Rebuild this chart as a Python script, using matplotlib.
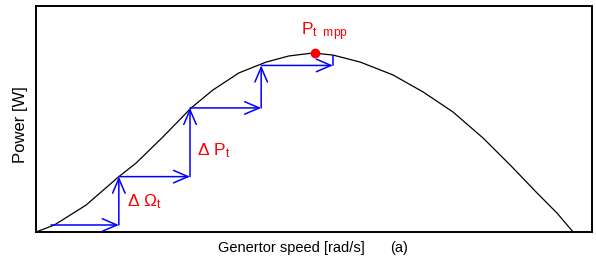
import matplotlib
matplotlib.use("Agg")
import matplotlib.pyplot as plt

plt.rcParams['font.family'] = ['Liberation Sans', 'DejaVu Sans']
plt.rcParams['mathtext.fontset'] = 'custom'
plt.rcParams['mathtext.rm'] = 'Liberation Sans'
plt.rcParams['mathtext.it'] = 'Liberation Sans'
plt.rcParams['mathtext.bf'] = 'Liberation Sans:bold'

# power curve (speed, power), both normalised 0..100
speed = [0, 3.3, 9.0, 14.9, 18.0, 22.8, 27.9, 31.8, 36.5, 41.4, 45.5, 49.8,
         53.4, 58.3, 64.2, 69.6, 75.0, 80.4, 85.3, 90.1, 93.7, 96.6]
power = [0, 3.1, 11.9, 24.5, 30.5, 42.0, 54.9, 62.8, 70.4, 75.2, 77.9, 79.2,
         78.3, 75.2, 69.5, 62.0, 53.1, 41.6, 29.6, 17.3, 8.4, 0]

# hill-climbing steps
step_x = [2.7, 14.9, 14.9, 27.7, 27.7, 40.5, 40.5, 53.4]
step_y = [3.1, 3.1, 24.5, 24.5, 54.9, 54.9, 73.7, 73.7]
tick_x = [53.4, 53.4]
tick_y = [73.7, 77.9]

mpp_x, mpp_y = 50.2, 79.2

fig = plt.figure(figsize=(5.96, 2.61), dpi=100)
ax = fig.add_axes([36 / 596, 29 / 261, 556 / 596, 226 / 261])

ax.plot(speed, power, color='black', lw=0.9)

for i in range(len(step_x) - 1):
    ax.annotate('', xy=(step_x[i + 1], step_y[i + 1]), xytext=(step_x[i], step_y[i]),
                arrowprops=dict(arrowstyle='->,head_length=1.05,head_width=0.45',
                                color='blue', lw=1.1, shrinkA=0, shrinkB=0))
ax.plot(tick_x, tick_y, color='blue', lw=1.1)

ax.plot([mpp_x], [mpp_y], 'o', color='red', ms=6)

ax.text(16.4, 11.5, r'$\mathrm{\Delta\ \Omega_t}$', color='red', fontsize=12.5,
        ha='left', va='baseline')
ax.text(29.0, 34.0, r'$\mathrm{\Delta\ P_t}$', color='red', fontsize=12.5,
        ha='left', va='baseline')
ax.text(47.6, 87.0, r'$\mathrm{P_{t\ \ mpp}}$', color='red', fontsize=12.5,
        ha='left', va='baseline')

ax.set_xlim(0, 100)
ax.set_ylim(0, 100)
ax.set_xticks([])
ax.set_yticks([])
for s in ax.spines.values():
    s.set_linewidth(1.4)

fig.text(218 / 596, 1 - 248 / 261, 'Genertor speed [rad/s]', fontsize=10.5,
         ha='left', va='center')
fig.text(390 / 596, 1 - 248 / 261, '(a)', fontsize=10.5, ha='left', va='center')
fig.text(21 / 596, 1 - 125 / 261, 'Power [W]', fontsize=12, rotation=90,
         ha='center', va='center')

fig.savefig('out.png', dpi=100)
